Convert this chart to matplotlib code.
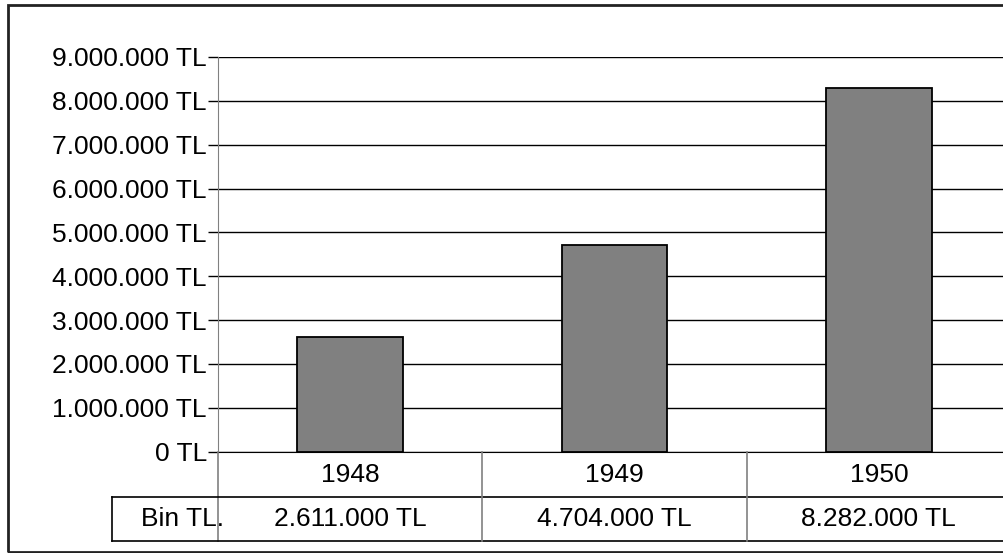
import matplotlib
matplotlib.use("Agg")
import matplotlib.pyplot as plt
from matplotlib.patches import Rectangle
from matplotlib.lines import Line2D
from matplotlib.ticker import FuncFormatter, MultipleLocator

years = ["1948", "1949", "1950"]
values = [2611000, 4704000, 8282000]
row_label = "Bin TL."


def tl(v, pos=None):
    return "{:,.0f} TL".format(v).replace(",", ".")


plt.rcParams["font.family"] = ["Liberation Sans", "DejaVu Sans"]
FS = 19
W, H = 1004, 553
fig = plt.figure(figsize=(W / 100, H / 100), dpi=100)

# plot area in pixels (left, right beyond the image edge, zero line, top)
x0, x1, y0, y1 = 218, 1011, 451.7, 57
ax = fig.add_axes([x0 / W, 1 - y0 / H, (x1 - x0) / W, (y0 - y1) / H])

xs = range(len(years))
ax.bar(xs, values, width=0.4, color="#808080", edgecolor="black", linewidth=1.3, zorder=3)
ax.set_xlim(-0.5, len(years) - 0.5)
ax.set_ylim(0, 9000000)
ax.yaxis.set_major_locator(MultipleLocator(1000000))
ax.yaxis.set_major_formatter(FuncFormatter(tl))
ax.grid(axis="y", color="black", linewidth=1, zorder=1)
ax.set_xticks([])
for s in ["top", "right"]:
    ax.spines[s].set_visible(False)
ax.spines["left"].set_color("#808080")
ax.spines["bottom"].set_color("black")
ax.tick_params(axis="y", length=7, width=1, color="black", labelsize=FS, pad=1)


def fy(py):
    return 1 - py / H


def fx(px):
    return px / W


# data table under the chart
r1, r2 = 497, 541
lines = [
    ([fx(x0), fx(x0)], [fy(y0), fy(r2)], "#808080"),
    ([fx(112), fx(1004)], [fy(r1), fy(r1)], "black"),
    ([fx(112), fx(1004)], [fy(r2), fy(r2)], "black"),
    ([fx(112), fx(112)], [fy(r1), fy(r2)], "black"),
]
for i in range(1, len(years)):
    px = x0 + (x1 - x0) * i / len(years)
    lines.append(([fx(px), fx(px)], [fy(y0), fy(r2)], "#808080"))
for xx, yy, c in lines:
    fig.add_artist(Line2D(xx, yy, color=c, linewidth=1.2, transform=fig.transFigure))

for i, (yr, v) in enumerate(zip(years, values)):
    cx = (x0 + (x1 - x0) * (i + 0.5) / len(years)) / W
    fig.text(cx, fy(475), yr, ha="center", va="center", fontsize=FS)
    fig.text(cx, fy(519), tl(v), ha="center", va="center", fontsize=FS)
fig.text(fx(141), fy(519), row_label, ha="left", va="center", fontsize=FS)

# outer chart frame
fig.add_artist(Rectangle((fx(8), fy(552)), fx(1100), fy(5) - fy(552), fill=False,
                         edgecolor="#222222", linewidth=2, transform=fig.transFigure))

fig.savefig("out.png", dpi=100)
